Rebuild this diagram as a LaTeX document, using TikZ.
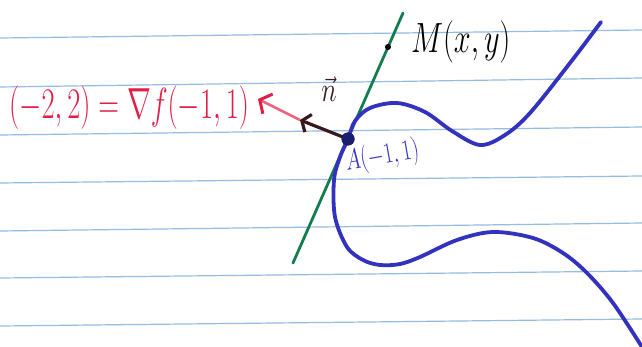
\documentclass[tikz,border=0pt]{standalone}
\usepackage{graphicx}
\usetikzlibrary{arrows.meta}
\definecolor{paperline}{RGB}{150,188,228}
\definecolor{inkred}{RGB}{225,30,70}
\definecolor{inkpink}{RGB}{235,100,125}
\definecolor{inkdark}{RGB}{55,25,30}
\definecolor{inkgreen}{RGB}{20,125,80}
\definecolor{inkblue}{RGB}{50,50,190}
\definecolor{dotblue}{RGB}{25,30,110}
\begin{document}
\begin{tikzpicture}[x=1pt,y=-1pt,
  ruled/.style={paperline,line width=1.2pt},
  tangentline/.style={inkgreen,line width=2.8pt,line cap=round},
  curveline/.style={inkblue,line width=3.8pt,line cap=round,line join=round},
  pointdot/.style={circle,inner sep=0pt,minimum size=#1},
  inklabel/.style={inner sep=0pt}]
\useasboundingbox (0,0) rectangle (642,347);
\fill[white] (0,0) rectangle (642,347);
\foreach \a/\b in {38/30,87/78,135/127,183/176,231/223,278/271,326/319}
  \draw[ruled] (0,\a) -- (642,\b);
% tangent line
\coordinate (gbot) at (293,263);
\coordinate (gtop) at (403,13);
\draw[tangentline] (gbot) -- (gtop);
% curve
\draw[curveline] plot[smooth,tension=0.55] coordinates {
  (601,22) (570,63) (530,113) (505,135) (480,145) (452,131) (425,112)
  (397,103) (370,108) (355,121) (348,139) (340,157) (334,180) (335,217)
  (347,247) (363,260) (380,265) (400,264) (420,257) (457,240) (493,232)
  (533,238) (563,253) (587,273) (613,303) (642,347)};
% points
\node[pointdot=13pt,fill=dotblue] (A) at (348,139) {};
\node[pointdot=6pt,fill=black] (M) at (388,47) {};
% vectors
\coordinate (nend) at (300,120);
\coordinate (gend) at (258,99);
\draw[inkpink,line width=2.6pt,-{Straight Barb[length=9pt,width=22pt,line width=3pt,color=inkred]}] (nend) -- (gend);
\draw[inkdark,line width=3.2pt,-{Straight Barb[length=7pt,width=19pt,line width=3.2pt]}] (A.center) -- (nend);
\node[pointdot=13pt,fill=dotblue] at (A) {};
% labels
\node[inklabel,inkred,anchor=west] (gradlab) at (9,108)
  {\scalebox{1.15}[1.75]{\Huge$(-2,2)=\nabla f(-1,1)$}};
\node[inklabel,anchor=west] (Mlab) at (411,42)
  {\scalebox{1.22}[1.7]{\Huge$M(x,y)$}};
\node[inklabel,inkdark] (nlab) at (329,89)
  {\scalebox{1.05}[1.4]{\Huge$\vec{n}$}};
\node[inklabel,inkblue,anchor=west] (Alab) at (343,157)
  {\rotatebox{10}{\scalebox{1}[1.4]{\huge$A(-1,1)$}}};
\end{tikzpicture}
\end{document}
